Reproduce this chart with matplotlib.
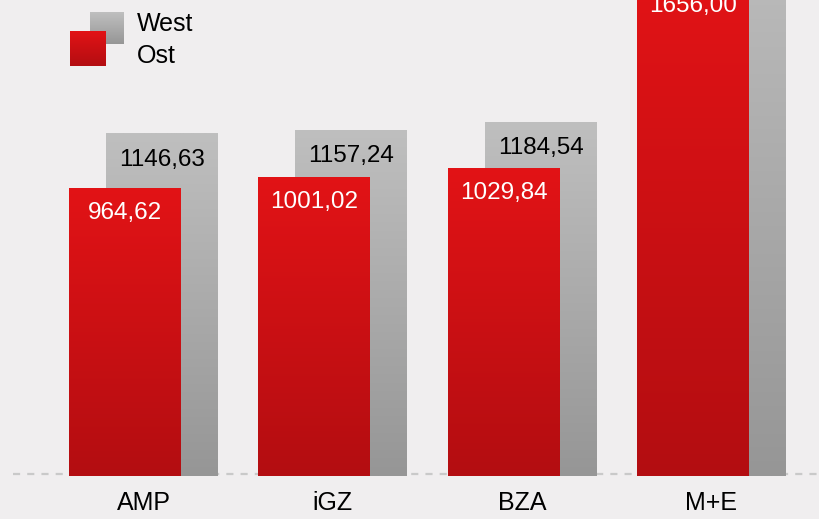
import numpy as np
import matplotlib
matplotlib.use("Agg")
import matplotlib.pyplot as plt
import matplotlib.transforms as mtransforms
from matplotlib.colors import LinearSegmentedColormap
from matplotlib.patches import Rectangle

categories = ["AMP", "iGZ", "BZA", "M+E"]
ost = [964.62, 1001.02, 1029.84, 1656.00]
west = [1146.63, 1157.24, 1184.54, 1900.00]
series_names = ["West", "Ost"]

BG = "#f0eeef"
red_cmap = LinearSegmentedColormap.from_list("r", ["#b30d11", "#e21316"])
grey_cmap = LinearSegmentedColormap.from_list("g", ["#969696", "#bfbfbf"])

plt.rcParams['font.family'] = ['Liberation Sans', 'DejaVu Sans']

fig = plt.figure(figsize=(8.2, 5.19), dpi=100, facecolor=BG)
ax = fig.add_axes([0, 43/519, 1, 476/519])
ax.set_facecolor(BG)
px_per_unit = 0.2990
spacing = 189.3
xlim = (-143.5/spacing, (820-143.5)/spacing)
ylim = (0, 476/px_per_unit)
for s in ax.spines.values():
    s.set_visible(False)
ax.set_yticks([])

x = np.arange(len(categories))
off = 18.5/spacing
w = 112/spacing

grad = np.linspace(0, 1, 256).reshape(-1, 1)

def gradient_bars(bars, cmap, z):
    for b in bars:
        x0, y0 = b.get_x(), b.get_y()
        im = ax.imshow(grad, cmap=cmap, aspect='auto', origin='lower',
                       extent=[x0, x0 + b.get_width(), y0, y0 + b.get_height()],
                       zorder=z)
        im.set_clip_path(b)

# dashed baseline (2 px above the bar foot)
tr = mtransforms.offset_copy(ax.get_yaxis_transform(), fig=fig, x=0, y=2, units='dots')
ax.plot([13/820, 1], [0, 0], transform=tr, color="#c9c9c9", lw=1.6,
        ls=(0, (3.2, 3.2)), dash_capstyle='butt', clip_on=False, zorder=0.5)

gb = ax.bar(x + off, west, width=w, color="#b0b0b0", zorder=1, lw=0)
gradient_bars(gb, grey_cmap, 1.1)
rb = ax.bar(x - off, ost, width=w, color="#cc1014", zorder=2, lw=0)
gradient_bars(rb, red_cmap, 2.1)
ax.set_xlim(*xlim)
ax.set_ylim(*ylim)

fmt = lambda v: f"{v:.2f}".replace('.', ',')
for xi, v in zip(x, west):
    ax.annotate(fmt(v), (xi + off, v), xytext=(0, -19), textcoords='offset points',
                ha='center', va='center', fontsize=17.5, color='black', zorder=3)
for xi, v in zip(x, ost):
    ax.annotate(fmt(v), (xi - off, v), xytext=(0, -18), textcoords='offset points',
                ha='center', va='center', fontsize=17.5, color='white', zorder=3,
                annotation_clip=False)

ax.set_xticks(x)
ax.set_xticklabels(categories, fontsize=18)
ax.tick_params(axis='x', length=0, pad=11)

# legend
lax = fig.add_axes([0, 0, 1, 1], facecolor='none')
lax.axis('off')
def grad_rect(x0, y0, wd, ht, cmap):
    r = Rectangle((x0, y0), wd, ht, lw=0, facecolor='none')
    lax.add_patch(r)
    im = lax.imshow(grad, cmap=cmap, aspect='auto', origin='lower',
                    extent=[x0, x0 + wd, y0 + ht, y0])
    im.set_clip_path(r)
grad_rect(90, 12, 34, 32, grey_cmap)
grad_rect(70, 31, 36, 35, red_cmap)
lax.set_xlim(0, 820); lax.set_ylim(519, 0)
lax.text(137, 24, series_names[0], fontsize=18, va='center', ha='left')
lax.text(137, 56, series_names[1], fontsize=18, va='center', ha='left')

fig.savefig("out.png", dpi=100, facecolor=BG)
